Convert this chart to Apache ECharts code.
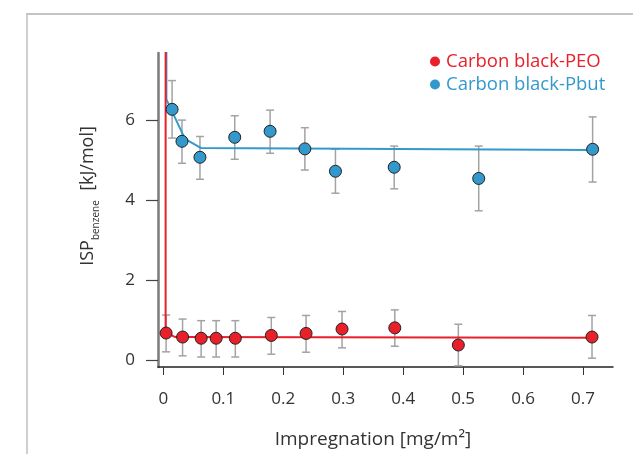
<!DOCTYPE html>
<html>
<head>
<meta charset="utf-8">
<script src="https://cdn.jsdelivr.net/npm/echarts@6/dist/echarts.min.js"></script>
<style>html,body{margin:0;padding:0;background:#fff}#c{width:633px;height:454px}</style>
</head>
<body>
<div id="c"></div>
<script>
// Carbon black-PEO
var peoX  = [0.0045, 0.032, 0.063, 0.088, 0.12, 0.18, 0.238, 0.298, 0.386, 0.492, 0.715];
var peoY  = [0.67, 0.57, 0.54, 0.54, 0.54, 0.61, 0.66, 0.77, 0.80, 0.37, 0.57];
var peoLo = [0.20, 0.10, 0.07, 0.07, 0.07, 0.14, 0.19, 0.30, 0.34, -0.15, 0.04];
var peoHi = [1.12, 1.02, 0.98, 0.98, 0.98, 1.06, 1.11, 1.21, 1.25, 0.89, 1.11];
var peoFitX = [0.0037, 0.0037, 0.02, 0.715];
var peoFitY = [7.9, 0.68, 0.57, 0.55];

// Carbon black-Pbut
var pbutX  = [0.0145, 0.031, 0.061, 0.119, 0.178, 0.236, 0.287, 0.385, 0.526, 0.716];
var pbutY  = [6.27, 5.47, 5.07, 5.57, 5.72, 5.28, 4.72, 4.82, 4.54, 5.27];
var pbutLo = [5.55, 4.92, 4.52, 5.02, 5.17, 4.75, 4.17, 4.28, 3.73, 4.45];
var pbutHi = [6.99, 6.00, 5.59, 6.11, 6.25, 5.81, 5.27, 5.35, 5.35, 6.08];
var pbutFitX = [0.005, 0.005, 0.036, 0.063, 0.716];
var pbutFitY = [7.9, 6.52, 5.53, 5.30, 5.25];

var xTicks = [0, 0.1, 0.2, 0.3, 0.4, 0.5, 0.6, 0.7];
var yTicks = [0, 2, 4, 6];

var RED = '#e8202a', BLUE = '#3399cc';
var FONT = 'Open Sans';

function zip(a, b) { return a.map(function (v, i) { return [v, b[i]]; }); }
function zip3(a, b, c) { return a.map(function (v, i) { return [v, b[i], c[i]]; }); }

function errRender(params, api) {
  var x = api.value(0);
  var lo = api.coord([x, api.value(1)]);
  var hi = api.coord([x, api.value(2)]);
  var w = 4;
  var st = { stroke: '#a3a3a3', lineWidth: 1.5 };
  return {
    type: 'group',
    children: [
      { type: 'line', shape: { x1: lo[0], y1: lo[1], x2: hi[0], y2: hi[1] }, style: st },
      { type: 'line', shape: { x1: lo[0] - w, y1: lo[1], x2: lo[0] + w, y2: lo[1] }, style: st },
      { type: 'line', shape: { x1: hi[0] - w, y1: hi[1], x2: hi[0] + w, y2: hi[1] }, style: st }
    ]
  };
}

var chart = echarts.init(document.getElementById('c'), null, { renderer: 'canvas' });
chart.setOption({
  backgroundColor: '#fff',
  animation: false,
  textStyle: { fontFamily: FONT },
  graphic: [
    { type: 'line', shape: { x1: 27, y1: 14, x2: 27, y2: 454 }, style: { stroke: '#cfcfcf', lineWidth: 2 } },
    { type: 'line', shape: { x1: 26, y1: 14, x2: 633, y2: 14 }, style: { stroke: '#c4c4c4', lineWidth: 2 } }
  ],
  grid: { left: 158, right: 20, top: 53, bottom: 82, containLabel: false },
  legend: {
    orient: 'vertical',
    left: 425,
    top: 47,
    itemWidth: 10,
    itemHeight: 10,
    itemGap: 4,
    icon: 'circle',
    itemStyle: { borderWidth: 0 },
    data: [
      { name: 'Carbon black-PEO', textStyle: { color: RED }, itemStyle: { color: RED, borderWidth: 0 } },
      { name: 'Carbon black-Pbut', textStyle: { color: BLUE }, itemStyle: { color: BLUE, borderWidth: 0 } }
    ],
    textStyle: { fontSize: 18.5, fontFamily: FONT, padding: [0, 0, 0, 1] }
  },
  xAxis: {
    type: 'value',
    min: -0.009,
    max: 0.75,
    splitLine: { show: false },
    axisLine: { show: true, onZero: false, lineStyle: { color: '#222', width: 1.5 } },
    axisTick: { show: true, length: 8, customValues: xTicks, lineStyle: { color: '#333', width: 1 } },
    axisLabel: { customValues: xTicks, fontSize: 17, color: '#333', margin: 24, fontFamily: FONT,
      formatter: function (v) { return v === 0 ? '0' : String(+v.toFixed(1)); } },
    name: 'Impregnation [mg/m²]',
    nameLocation: 'middle',
    nameGap: 63,
    nameTextStyle: { fontSize: 19, color: '#333', fontFamily: FONT, padding: [0, 25, 0, 0] }
  },
  yAxis: {
    type: 'value',
    min: -0.18,
    max: 7.68,
    splitLine: { show: false },
    axisLine: { show: true, onZero: false, lineStyle: { color: '#7a7a7a', width: 2.5 } },
    axisTick: { show: true, length: 12, customValues: yTicks, lineStyle: { color: '#444', width: 1.2 } },
    axisLabel: { customValues: yTicks, fontSize: 17, color: '#333', margin: 23, fontFamily: FONT },
    name: '{a|ISP}{b|benzene}{a|  [kJ/mol]}',
    nameLocation: 'middle',
    nameRotate: 90,
    nameGap: 57,
    nameTextStyle: {
      color: '#333',
      padding: [0, 0, 0, 28],
      rich: {
        a: { fontSize: 18, color: '#333', fontFamily: FONT, lineHeight: 26 },
        b: { fontSize: 10, color: '#333', fontFamily: FONT, verticalAlign: 'bottom', lineHeight: 26 }
      }
    }
  },
  series: [
    { type: 'custom', name: 'errPEO', renderItem: errRender, data: zip3(peoX, peoLo, peoHi), z: 1, silent: true, clip: true },
    { type: 'custom', name: 'errPbut', renderItem: errRender, data: zip3(pbutX, pbutLo, pbutHi), z: 1, silent: true, clip: true },
    { type: 'line', name: 'fitPbut', data: zip(pbutFitX, pbutFitY), showSymbol: false, symbol: 'none',
      lineStyle: { color: BLUE, width: 2 }, z: 2, clip: true, silent: true },
    { type: 'line', name: 'fitPEO', data: zip(peoFitX, peoFitY), showSymbol: false, symbol: 'none',
      lineStyle: { color: RED, width: 2 }, z: 3, clip: true, silent: true },
    { type: 'scatter', name: 'Carbon black-PEO', data: zip(peoX, peoY), symbolSize: 12,
      itemStyle: { color: RED, borderColor: '#222', borderWidth: 1, opacity: 1 }, z: 4 },
    { type: 'scatter', name: 'Carbon black-Pbut', data: zip(pbutX, pbutY), symbolSize: 12,
      itemStyle: { color: BLUE, borderColor: '#222', borderWidth: 1, opacity: 1 }, z: 4 }
  ]
});
</script>
</body>
</html>
